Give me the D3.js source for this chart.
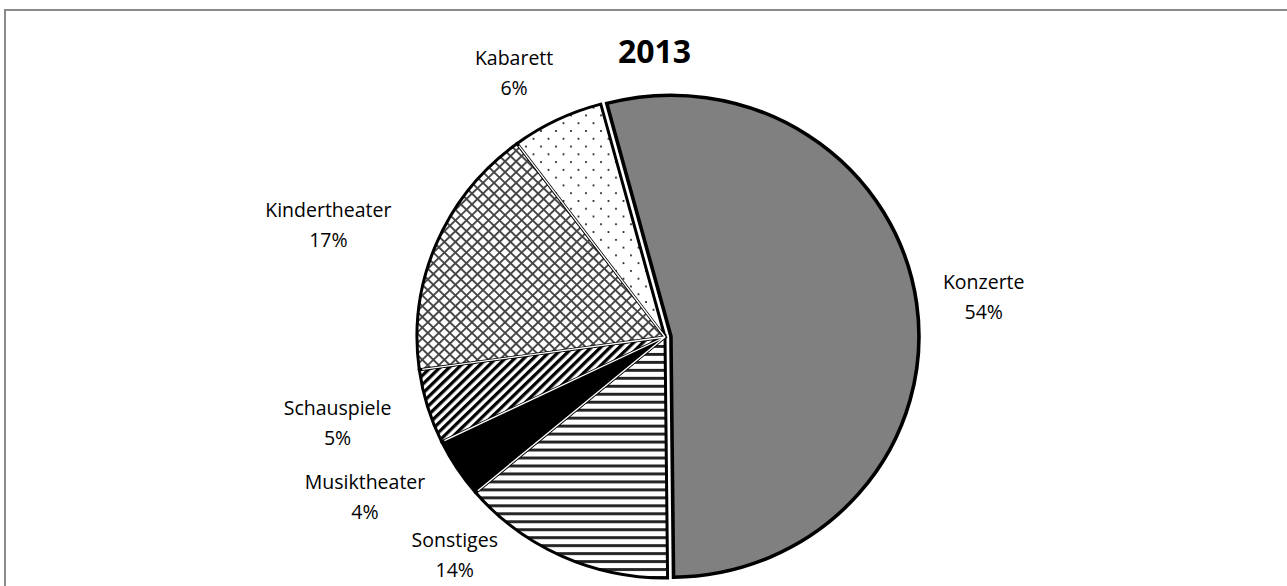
<!DOCTYPE html>
<html>
<head>
<meta charset="utf-8">
<script src="https://cdn.jsdelivr.net/npm/d3@7"></script>
<style>
  html, body { margin: 0; padding: 0; background: #fff; }
  svg { display: block; }
  text { font-family: "Open Sans", "DejaVu Sans", sans-serif; fill: #000; }
</style>
</head>
<body>
<svg id="chart" width="1287" height="586"></svg>
<script>
// Event categories and their share of all events in 2013 (percent)
const categories = ["Konzerte", "Sonstiges", "Musiktheater", "Schauspiele", "Kindertheater", "Kabarett"];
const shares = [54, 14, 4, 5, 17, 6];
const chartTitle = "2013";

// Fill style for each category (pattern ids defined below)
const fills = {
  "Konzerte": "#808080",
  "Sonstiges": "url(#hlines)",
  "Musiktheater": "#000",
  "Schauspiele": "url(#diag)",
  "Kindertheater": "url(#cross)",
  "Kabarett": "url(#dots)"
};
// Label offset from the outer rim point at the slice's mid angle
const labelNudge = {
  "Konzerte": [73, -7],
  "Sonstiges": [-107, -1],
  "Musiktheater": [-92, 29],
  "Schauspiele": [-90, 16],
  "Kindertheater": [-108, -19],
  "Kabarett": [-43, -47]
};

const W = 1287, H = 586;
const cx = 665, cy = 337, rx = 248, ry = 241;
const explode = 6;
const deg = Math.PI / 180;

const svg = d3.select("#chart");

// Frame
svg.append("path")
  .attr("d", `M5,${H} V10 H${W}`)
  .attr("fill", "none")
  .attr("stroke", "#8a8a8a")
  .attr("stroke-width", 2);

// Patterns
const defs = svg.append("defs");

const hl = defs.append("pattern").attr("id", "hlines")
  .attr("patternUnits", "userSpaceOnUse").attr("width", 8).attr("height", 8.2);
hl.append("rect").attr("width", 8).attr("height", 8.2).attr("fill", "#fff");
hl.append("rect").attr("y", 0).attr("width", 8).attr("height", 3).attr("fill", "#222");

const dg = defs.append("pattern").attr("id", "diag")
  .attr("patternUnits", "userSpaceOnUse").attr("width", 6.6).attr("height", 6.6)
  .attr("patternTransform", "rotate(45)");
dg.append("rect").attr("width", 6.6).attr("height", 6.6).attr("fill", "#fff");
dg.append("rect").attr("width", 3.3).attr("height", 6.6).attr("fill", "#000");

const cr = defs.append("pattern").attr("id", "cross")
  .attr("patternUnits", "userSpaceOnUse").attr("width", 7.8).attr("height", 7.8)
  .attr("patternTransform", "rotate(45)");
cr.append("rect").attr("width", 7.8).attr("height", 7.8).attr("fill", "#fff");
cr.append("rect").attr("width", 1.9).attr("height", 7.8).attr("fill", "#444");
cr.append("rect").attr("width", 7.8).attr("height", 1.9).attr("fill", "#444");

const dt = defs.append("pattern").attr("id", "dots")
  .attr("patternUnits", "userSpaceOnUse").attr("width", 15).attr("height", 16);
dt.append("rect").attr("width", 15).attr("height", 16).attr("fill", "#fff");
dt.append("circle").attr("cx", 3.5).attr("cy", 4).attr("r", 1.1).attr("fill", "#222");
dt.append("circle").attr("cx", 11).attr("cy", 12).attr("r", 1.1).attr("fill", "#222");

// Pie layout: clockwise from just left of 12 o'clock, data order kept
const data = categories.map((c, i) => ({ name: c, value: shares[i] }));
const pie = d3.pie().sort(null).value(d => d.value)
  .startAngle(-15 * deg).endAngle(345 * deg);
const arcs = pie(data);
const arc = d3.arc().innerRadius(0).outerRadius(rx);

const g = svg.append("g")
  .attr("transform", `translate(${cx},${cy}) scale(1,${ry / rx})`);

g.selectAll("path.slice")
  .data(arcs)
  .join("path")
  .attr("class", "slice")
  .attr("d", arc)
  .attr("fill", d => fills[d.data.name])
  .attr("stroke", "#000")
  .attr("stroke-width", d => d.data.name === "Konzerte" ? 3.6 : 3)
  .attr("stroke-linejoin", "miter")
  .attr("transform", d => {
    if (d.data.name !== "Konzerte") return null;
    const m = (d.startAngle + d.endAngle) / 2;
    return `translate(${explode * Math.sin(m)},${-explode * Math.cos(m)})`;
  });

// Thin white separators between adjoining (non-exploded) slices
const seps = arcs.slice(1, arcs.length - 1).map(d => d.endAngle);
g.selectAll("line.sep")
  .data(seps)
  .join("line")
  .attr("class", "sep")
  .attr("x1", 0).attr("y1", 0)
  .attr("x2", a => (rx - 3) * Math.sin(a))
  .attr("y2", a => -(rx - 3) * Math.cos(a))
  .attr("stroke", "#fff")
  .attr("stroke-width", 1.4);

// Category labels with percentages
const labels = svg.append("g");
arcs.forEach(d => {
  const m = (d.startAngle + d.endAngle) / 2;
  const [nx, ny] = labelNudge[d.data.name];
  const x = cx + rx * Math.sin(m) + nx;
  const y = cy - ry * Math.cos(m) + ny;
  const t = labels.append("text")
    .attr("text-anchor", "middle")
    .style("font-size", "19.5px");
  t.append("tspan").attr("x", x).attr("y", y - 8).text(d.data.name);
  t.append("tspan").attr("x", x).attr("y", y + 22).text(d.data.value + "%");
});

// Title
svg.append("text")
  .attr("x", 654.5).attr("y", 63)
  .attr("text-anchor", "middle")
  .style("font-size", "32px")
  .style("font-weight", "bold")
  .text(chartTitle);
</script>
</body>
</html>
